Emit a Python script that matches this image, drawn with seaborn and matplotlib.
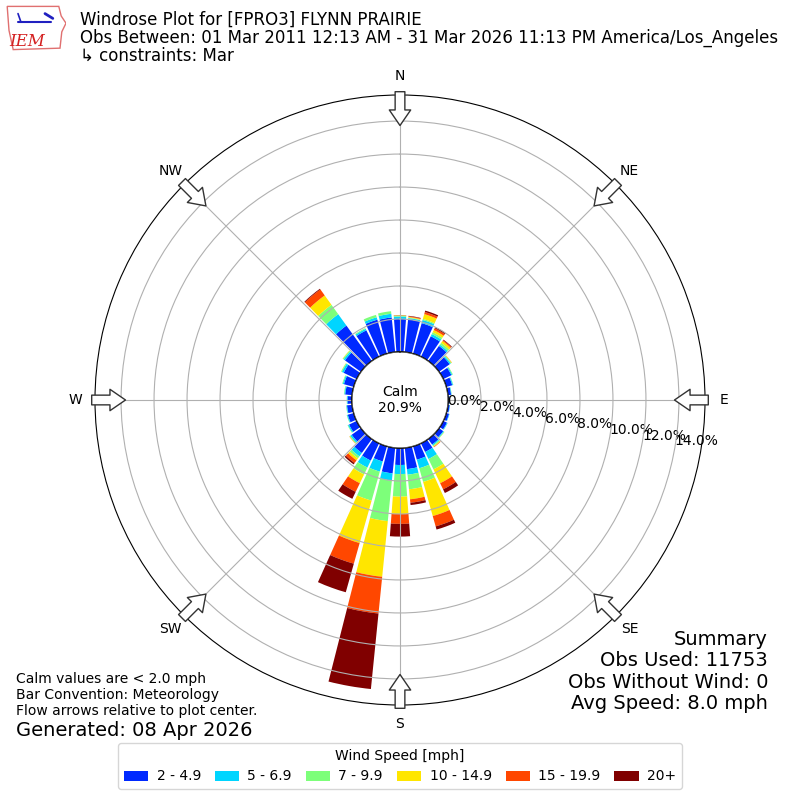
import numpy as np
import pandas as pd
import matplotlib
matplotlib.use("Agg")
import matplotlib.pyplot as plt
import seaborn as sns
from matplotlib.patches import Circle, Polygon

# 10 degree sectors, meteorological convention (direction wind blows from)
directions = list(range(0, 360, 10))
speed_bins = ["2 - 4.9", "5 - 6.9", "7 - 9.9", "10 - 14.9", "15 - 19.9", "20+"]

pct_2_5 = [2.00, 2.00, 1.93, 1.38, 1.13, 0.80, 0.55, 0.38, 0.20, 0.10, 0.12, 0.18,
           0.25, 0.32, 0.42, 0.59, 0.85, 1.30, 1.03, 1.56, 0.96, 1.17, 1.05, 0.70,
           0.52, 0.38, 0.32, 0.27, 0.43, 0.62, 0.88, 1.20, 2.65, 1.78, 2.15, 2.12]
pct_5_7 = [0.15, 0.08, 0.20, 0.15, 0.10, 0.08, 0.06, 0.05, 0.03, 0.02, 0.02, 0.03,
           0.04, 0.05, 0.07, 0.47, 0.54, 0.34, 0.55, 0.44, 0.64, 0.47, 0.25, 0.10,
           0.07, 0.05, 0.04, 0.04, 0.05, 0.07, 0.12, 0.10, 0.85, 0.10, 0.15, 0.22]
pct_7_10 = [0.05, 0.03, 0.07, 0.12, 0.13, 0.05, 0.04, 0.02, 0.01, 0.00, 0.00, 0.00,
            0.01, 0.03, 0.06, 0.70, 0.86, 0.89, 1.37, 2.47, 1.83, 0.46, 0.15, 0.05,
            0.03, 0.02, 0.02, 0.01, 0.03, 0.04, 0.05, 0.06, 0.70, 0.05, 0.15, 0.16]
pct_10_15 = [0.02, 0.04, 0.30, 0.15, 0.14, 0.03, 0.00, 0.00, 0.00, 0.00, 0.00, 0.00,
             0.00, 0.01, 0.04, 0.93, 2.15, 0.61, 1.05, 3.39, 2.67, 0.59, 0.15, 0.02,
             0.00, 0.00, 0.00, 0.00, 0.00, 0.00, 0.01, 0.02, 0.70, 0.00, 0.00, 0.00]
pct_15_20 = [0.01, 0.04, 0.13, 0.12, 0.06, 0.01, 0.00, 0.00, 0.00, 0.00, 0.00, 0.00,
             0.00, 0.00, 0.03, 0.41, 0.65, 0.21, 0.60, 2.24, 1.30, 0.58, 0.20, 0.01,
             0.00, 0.00, 0.00, 0.00, 0.00, 0.00, 0.00, 0.00, 0.45, 0.00, 0.00, 0.00]
pct_20 = [0.01, 0.03, 0.09, 0.08, 0.04, 0.00, 0.00, 0.00, 0.00, 0.00, 0.00, 0.00,
          0.00, 0.00, 0.00, 0.25, 0.20, 0.14, 0.77, 4.60, 1.80, 0.47, 0.10, 0.00,
          0.00, 0.00, 0.00, 0.00, 0.00, 0.00, 0.00, 0.00, 0.05, 0.00, 0.00, 0.00]

calm_pct = 20.9
ring_ticks = [0, 2, 4, 6, 8, 10, 12, 14]
compass = ["N", "NE", "E", "SE", "S", "SW", "W", "NW"]

df = pd.DataFrame({"dir": directions, speed_bins[0]: pct_2_5, speed_bins[1]: pct_5_7,
                   speed_bins[2]: pct_7_10, speed_bins[3]: pct_10_15,
                   speed_bins[4]: pct_15_20, speed_bins[5]: pct_20})

sns.set_style("white")
plt.rcParams["axes.axisbelow"] = False
plt.rcParams["font.family"] = ["DejaVu Sans"]
for k in ["text.color", "axes.labelcolor", "xtick.color", "ytick.color"]:
    plt.rcParams[k] = "black"
colors = plt.cm.jet(np.linspace(1 / 6, 1, 6))

fig = plt.figure(figsize=(8, 8), dpi=100)
ax = fig.add_axes([0.11875, 0.11875, 0.7625, 0.7625], projection="polar")
ax.set_theta_zero_location("N")
ax.set_theta_direction(-1)

theta = np.radians(df["dir"].values)
bottom = np.zeros(len(df))
for name, c in zip(speed_bins, colors):
    ax.bar(theta, df[name].values, width=np.radians(8.5), bottom=bottom,
           color=c, label=name, linewidth=0, zorder=1)
    bottom += df[name].values

rmax = 15.58
ax.set_ylim(0, rmax)
ax.set_rorigin(-2.91)
ax.set_yticks(ring_ticks)
ax.set_yticklabels([f"{v:.1f}%" for v in ring_ticks], fontsize=10)
ax.set_rlabel_position(100)
ax.set_xticks(np.radians(np.arange(0, 360, 45)))
ax.set_xticklabels(compass, fontsize=10)
ax.grid(True, color="#b0b0b0", linewidth=0.8, zorder=2)
ax.spines["polar"].set_color("black")

# flow arrows on the outer ring
for a in np.radians(np.arange(0, 360, 45)):
    ax.annotate("", xy=(a, rmax - 1.85), xytext=(a, rmax + 0.2),
                arrowprops=dict(arrowstyle="simple,head_length=0.8,head_width=1.1,tail_width=0.5",
                                fc="white", ec="#333333", lw=1, mutation_scale=14,
                                shrinkA=0, shrinkB=0),
                annotation_clip=False, zorder=5)

# calm circle
ax.add_patch(Circle((0.5, 0.5), 48 / 610, transform=ax.transAxes, facecolor="white",
                    edgecolor="black", linewidth=1.2, zorder=4))
ax.text(0.5, 0.5, f"Calm\n{calm_pct:.1f}%", transform=ax.transAxes, ha="center",
        va="center", fontsize=10, zorder=6)

# logo
lax = fig.add_axes([6 / 800, 1 - 52 / 800, 60 / 800, 48 / 800])
lax.set_xlim(0, 1)
lax.set_ylim(0, 1)
lax.axis("off")
lax.add_patch(Polygon([(0.02, 0.95), (0.88, 0.95), (0.92, 0.75), (1.0, 0.6), (0.93, 0.42),
                       (0.9, 0.08), (0.12, 0.05), (0.05, 0.45)],
                      closed=True, fill=False, ec="#e07070", lw=1))
lax.plot([0.2, 0.75], [0.62, 0.62], color="#2020c0", lw=1.5)
lax.plot([0.2, 0.25], [0.8, 0.62], color="#2020c0", lw=1.2)
lax.plot([0.65, 0.78], [0.8, 0.7], color="#2020c0", lw=2)
lax.text(0.35, 0.22, "IEM", color="#d42020", fontsize=12, style="italic",
         family="serif", ha="center", va="center")

# header
fig.text(80 / 800, 1 - 11 / 800,
         "Windrose Plot for [FPRO3] FLYNN PRAIRIE\n"
         "Obs Between: 01 Mar 2011 12:13 AM - 31 Mar 2026 11:13 PM America/Los_Angeles\n"
         "\u21b3 constraints: Mar", ha="left", va="top", fontsize=12,
         linespacing=0.98)

# footer notes
fig.text(16 / 800, 1 - 672 / 800,
         "Calm values are < 2.0 mph\nBar Convention: Meteorology\n"
         "Flow arrows relative to plot center.", ha="left", va="top", fontsize=10)
fig.text(16 / 800, 1 - 730 / 800, "Generated: 08 Apr 2026", ha="left", va="center",
         fontsize=14)
fig.text(768 / 800, 1 - 630 / 800,
         "Summary\nObs Used: 11753\nObs Without Wind: 0\nAvg Speed: 8.0 mph",
         ha="right", va="top", fontsize=14, linespacing=1.15)

handles, labels = ax.get_legend_handles_labels()
fig.legend(handles, labels, loc="lower center", bbox_to_anchor=(0.5, 0.005), ncol=6,
           title="Wind Speed [mph]", fontsize=10, title_fontsize=10,
           handlelength=1.75, handletextpad=0.6, columnspacing=1.0, frameon=True)

fig.savefig("out.png", dpi=100)
